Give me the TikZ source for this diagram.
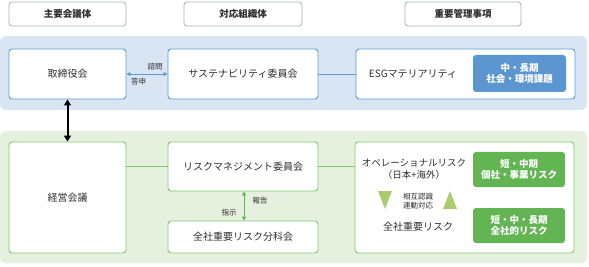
\documentclass[tikz,border=0pt]{standalone}
\usepackage{fontspec}
\setmainfont{Noto Sans CJK JP}
\usetikzlibrary{arrows.meta,positioning}
\definecolor{bpanel}{HTML}{DAE5F3}
\definecolor{bline}{HTML}{5B9BD5}
\definecolor{bfill}{HTML}{5B96D0}
\definecolor{gpanel}{HTML}{E5F1DE}
\definecolor{gline}{HTML}{7DC86E}
\definecolor{gfill}{HTML}{62B552}
\definecolor{tri}{HTML}{A9CC6E}
\definecolor{hline}{HTML}{A8B0B8}
\definecolor{txt}{HTML}{2E2E2E}
\tikzset{
  hdr/.style={draw=hline,line width=0.8pt,rounded corners=3pt,fill=white,text=txt,font=\fontsize{9.5}{11}\selectfont\bfseries},
  bbox/.style={draw=bline,line width=0.9pt,rounded corners=3pt,fill=white,text=txt,font=\fontsize{10}{12}\selectfont},
  gbox/.style={draw=gline,line width=0.9pt,rounded corners=3pt,fill=white,text=txt,font=\fontsize{10}{12}\selectfont},
  binner/.style={fill=bfill,rounded corners=3pt,text=white,font=\fontsize{9.5}{11.5}\selectfont\bfseries,align=center},
  ginner/.style={fill=gfill,rounded corners=3pt,text=white,font=\fontsize{9.5}{11.5}\selectfont\bfseries,align=center},
  small/.style={text=txt,font=\fontsize{7.5}{9}\selectfont,inner sep=0pt},
}
\begin{document}
\begin{tikzpicture}[x=1pt,y=-1pt]
\useasboundingbox (0,0) rectangle (589,267);
% panels
\fill[bpanel,rounded corners=6pt] (0,36) rectangle (587,110);
\fill[gpanel,rounded corners=6pt] (0,131) rectangle (587,263);
% headers
\node[hdr,minimum width=117pt,minimum height=24pt] (h1) at (67.5,14) {主要会議体};
\node[hdr,minimum width=118pt,minimum height=24pt] (h2) at (243,14) {対応組織体};
\node[hdr,minimum width=116pt,minimum height=24pt] (h3) at (463,14) {重要管理事項};
% blue row
\node[bbox,minimum width=117pt,minimum height=50pt] (tori) at (67.5,74) {取締役会};
\node[bbox,minimum width=150pt,minimum height=50pt] (sust) at (243,74) {サステナビリティ委員会};
\node[bbox,minimum width=219pt,minimum height=50pt] (esg) at (465.5,74) {};
\node[text=txt,font=\fontsize{10}{12}\selectfont,anchor=center,inner sep=0pt] (esgt) at (413,74) {ESGマテリアリティ};
\node[binner,minimum width=93pt,minimum height=37pt] (bin) at (519.5,73.5) {中・長期\\社会・環境課題};
\draw[bline,line width=0.9pt,{Triangle[length=4pt,width=4pt]}-{Triangle[length=4pt,width=4pt]}] (tori.east) -- (sust.west);
\node[small] (shimon) at (155,66.5) {諮問};
\node[small] (toshin) at (138.5,81.5) {答申};
\draw[bline,line width=0.9pt] (sust.east) -- (esg.west);
% green row
\node[gbox,minimum width=117pt,minimum height=111pt] (keiei) at (67.5,197.5) {経営会議};
\node[gbox,minimum width=150pt,minimum height=49pt] (rm) at (243,166.5) {リスクマネジメント委員会};
\node[gbox,minimum width=150pt,minimum height=32pt] (bun) at (243,237) {全社重要リスク分科会};
\node[gbox,minimum width=219pt,minimum height=111pt] (ops) at (464.5,197.5) {};
\draw[black,line width=2pt,{Triangle[length=6pt,width=7pt]}-{Triangle[length=6pt,width=7pt]}] (tori.south) -- (keiei.north);
\draw[gline,line width=0.9pt] (keiei.east |- rm.west) -- (rm.west);
\draw[gline,line width=0.9pt] (rm.east) -- (ops.west |- rm.east);
\draw[gfill,line width=0.9pt,{Triangle[length=4pt,width=4pt]}-{Triangle[length=4pt,width=4pt]}] ([xshift=1pt]rm.south) -- ([xshift=1pt]bun.north);
\node[small] (hokoku) at (260,200.5) {報告};
\node[small] (shiji) at (229,213) {指示};
% right green content
\node[text=txt,font=\fontsize{9.5}{12}\selectfont,align=center,inner sep=0pt] (opr) at (414,169) {オペレーショナルリスク\\（日本+海外）};
\fill[tri] (378,191) -- (392,191) -- (385,209) -- cycle;
\fill[tri] (443,209) -- (457,209) -- (450,191) -- cycle;
\node[small,align=center] (sogo) at (418,201) {相互認識\\連動対応};
\node[text=txt,font=\fontsize{10}{12}\selectfont,inner sep=0pt] (zen) at (418,227) {全社重要リスク};
\node[ginner,minimum width=92pt,minimum height=35pt] (g1) at (519,169.5) {短・中期\\個社・事業リスク};
\node[ginner,minimum width=92pt,minimum height=35pt] (g2) at (519,225.5) {短・中・長期\\全社的リスク};
\end{tikzpicture}
\end{document}
